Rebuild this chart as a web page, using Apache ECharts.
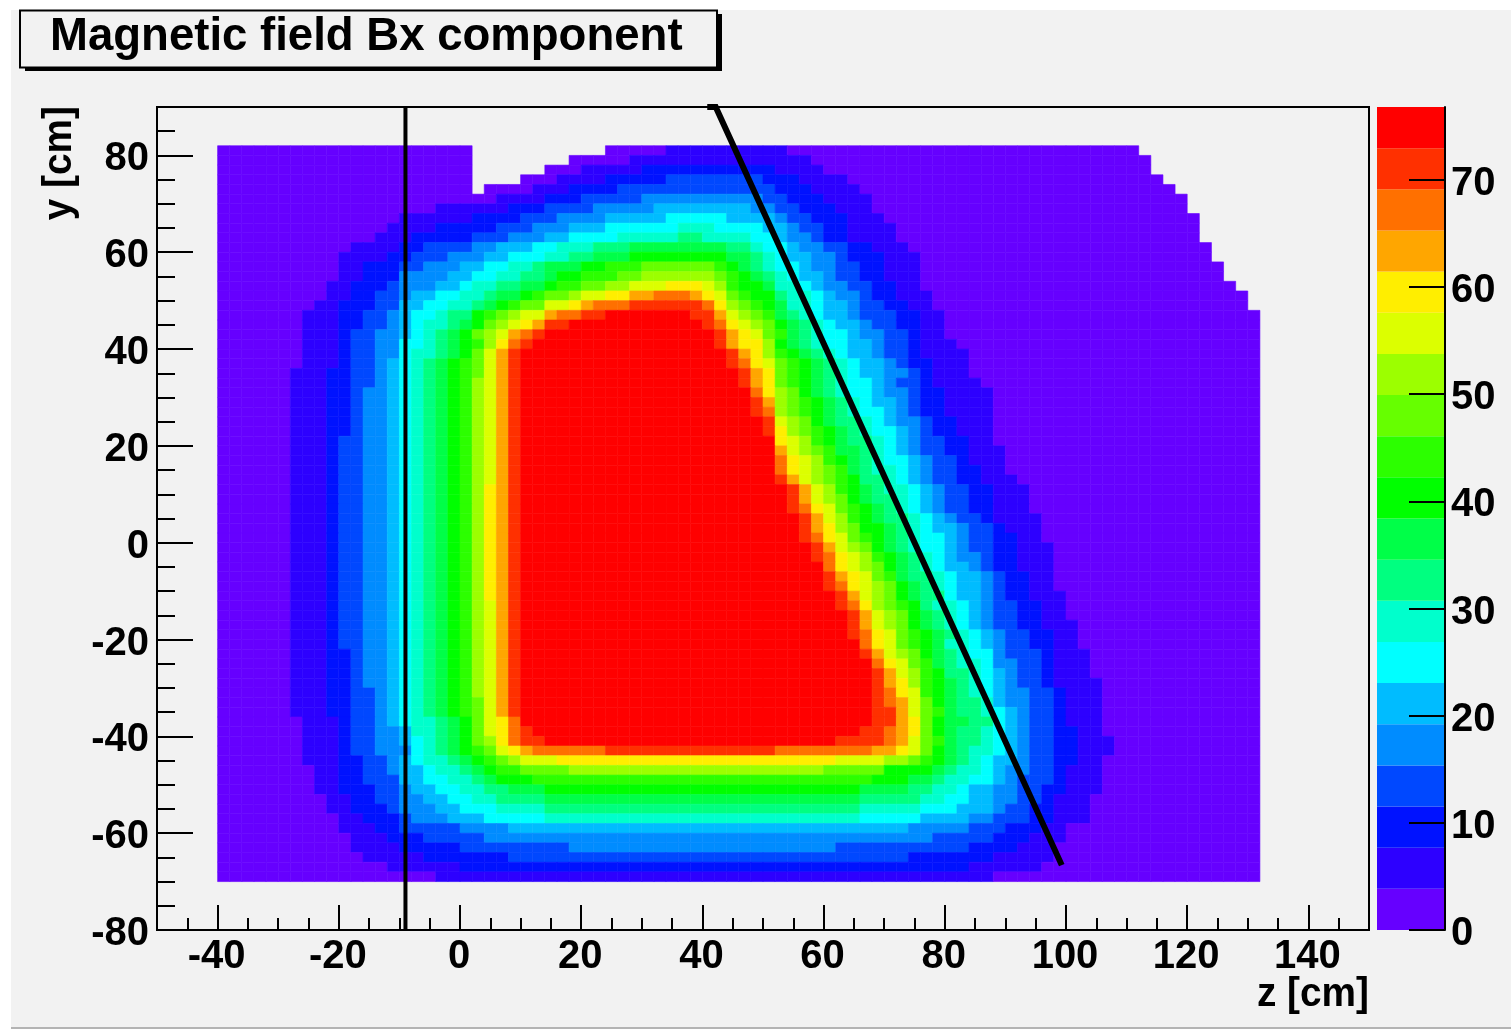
<!DOCTYPE html>
<html>
<head>
<meta charset="utf-8">
<title>Magnetic field Bx component</title>
<style>
  html, body { margin: 0; padding: 0; background: #fff; width: 1511px; height: 1029px; overflow: hidden; }
  #panel { position: absolute; left: 11px; top: 10px; width: 1500px; height: 1017px; background: #f2f2f2; border-bottom: 2px solid #b4b4b4; }
  #chart { position: absolute; left: 0; top: 0; width: 1511px; height: 1029px; }
</style>
</head>
<body>
<div id="panel"></div>
<div id="chart"></div>
<script src="https://cdn.jsdelivr.net/npm/echarts@6/dist/echarts.min.js"></script>
<script>
// Colour-band edges of the Bx scale, the band colours and the band centres.
const bandEdges = [0, 3.84, 7.68, 11.52, 15.36, 19.2, 23.04, 26.88, 30.72, 34.56, 38.4, 42.24, 46.08, 49.92, 53.76, 57.6, 61.44, 65.28, 69.12, 72.96, 76.8];
const bandColors = ['#6600ff', '#2d00ff', '#0012ff', '#0048ff', '#008cff', '#00bcff', '#00ffff', '#00ffcc', '#00ff80', '#00ff48', '#00ff00', '#2cff00', '#66ff00', '#9cff00', '#dcff00', '#ffee00', '#ffa600', '#ff7000', '#ff3000', '#ff0000'];
const bandValues = [1.92, 5.76, 9.6, 13.44, 17.28, 21.12, 24.96, 28.8, 32.64, 36.48, 40.32, 44.16, 48, 51.84, 55.68, 59.52, 63.36, 67.2, 71.04, 74.88];
const bandLetters = 'abcdefghijklmnopqrst';

// Histogram bins.
const zFirstBin = -40, zBinWidth = 2, zBinCount = 86;
const yTopBin = 80, yBinHeight = 2;

// One line per y bin, top to bottom: band letter + first z bin of that run ('.' = empty).
const fieldRows = [
'a0 .21 a32 b37 a47 .76',
'a0 .21 a29 b34 a49 .77',
'a0 .21 a27 b30 c35 b46 a50 .77',
'a0 .21 a25 b28 c32 d37 c45 b48 a52 .78',
'a0 .21 a22 b26 c29 d33 c46 b49 a53 .79',
'a0 b23 c27 d30 e35 d45 c47 b50 a54 .80',
'a0 b18 c24 d27 e31 f36 e44 d46 c48 b51 a54 .80',
'a0 b15 c21 d25 e28 f32 g37 f42 e46 d47 c49 b52 a55 .81',
'a0 b14 c18 d23 e26 f29 g32 h38 g41 f45 e47 d48 c50 b52 a56 .81',
'a0 b13 c16 d21 e24 f27 g29 h33 i38 h40 g44 f46 e47 d49 c50 b52 a56 .81',
'a0 b11 c15 d17 e21 f23 g26 h28 i31 j34 i42 h44 g45 f47 e48 d50 c52 b54 a57 .82',
'a0 b10 c14 d16 e19 f22 g24 h27 i29 j31 k34 j42 i44 h45 g46 f47 e49 d51 c52 b55 a58 .82',
'a0 b10 c12 d15 e17 f20 g22 h24 i26 j27 k30 l32 m35 l41 k42 j43 i44 h45 g46 f48 e49 d51 c53 b55 a58 .83',
'a0 b10 c12 e15 f19 g21 h23 i25 j27 k28 l30 m33 n35 m41 l42 k43 j44 i45 h46 g47 f48 e50 d51 c53 b55 a58 .83',
'a0 b9 c11 d14 e15 f18 g20 h21 i23 j25 k27 l28 m30 n32 o34 p37 o40 n41 l42 k43 j45 h46 g48 f49 e50 d52 c54 b56 a58 .84',
'a0 b9 c11 d13 e15 f16 g18 h20 i22 j23 k25 l26 m27 n29 o30 p32 q34 r36 q39 p40 o41 m42 l43 k44 i46 h47 g49 f50 e51 d53 c54 b56 a59 .85',
'a0 b8 c10 d13 f15 g17 h19 i21 j22 k23 l24 m25 o27 p29 q30 r31 s34 r40 p41 n42 m43 l44 k45 j46 h47 g49 f50 e52 d53 c55 b57 a59 .85',
'a0 b7 c10 d12 e14 f15 g16 h18 i19 k21 l22 m23 n24 o25 q27 r28 s30 t32 s39 q41 o42 n43 m44 l45 j46 i47 h48 g49 f50 e52 d53 c56 b58 a60',
'a0 b7 c10 d12 e14 f15 g16 h17 i19 j20 k21 m22 n23 o24 p25 q26 s27 t29 s40 r41 p42 o43 n44 m45 k46 j47 i48 h49 g50 f51 e53 d54 c56 b58 a60',
'a0 b7 c10 d11 e13 f15 g16 h17 i18 j19 k20 m21 n22 o23 q24 r25 s26 t27 s41 q42 p43 o44 m45 l46 j47 i48 h49 g50 f52 e53 d55 c57 b58 a60',
'a0 b7 c10 d11 e13 g15 h17 i18 j19 k20 l21 n22 p23 r24 s25 t26 s41 q42 p43 n45 k46 j47 i48 h49 g50 f52 e54 d55 c57 b58 a61',
'a0 b7 c10 d11 e13 g15 h16 i18 j19 k20 m21 o22 q23 s24 t25 s42 q43 p44 n45 l46 k47 j48 i49 h50 g51 f52 e54 d55 c57 b58 a62',
'a0 b7 c10 d11 e13 f14 g15 h16 i17 j18 k19 l20 m21 o22 q23 s24 t25 s42 r43 p44 o45 m46 l47 k48 j49 i50 h51 g52 f53 e55 d56 c57 b59 a62',
'a0 b6 c9 d11 e13 f14 g15 h16 i17 j18 k19 l20 m21 o22 q23 s24 t25 s43 q44 p45 m46 l47 k48 j49 i50 h51 g52 f53 e55 d57 c58 b59 a62',
'a0 b6 c9 d11 e13 f14 g15 h16 i17 j18 k19 l20 n21 o22 q23 s24 t25 s43 q44 p45 m46 l47 k48 j49 i50 h51 g52 f54 e55 d56 c58 b59 a63',
'a0 b6 c9 d11 e12 f14 g15 h16 i17 j18 k19 l20 n21 o22 q23 s24 t25 r44 p45 n46 m47 k48 j49 i50 h51 g52 f54 e55 d57 c58 b60 a64',
'a0 b6 c9 d11 e12 f14 g15 h16 i17 j18 k19 l20 n21 o22 q23 s24 t25 s44 q45 n46 m47 l48 k49 j50 i51 h52 g53 f54 e56 d57 c58 b60 a64',
'a0 b6 c9 d11 e12 f14 g15 h16 i17 j18 k19 l20 n21 o22 q23 s24 t25 s44 r45 n46 m47 l48 k49 j50 i51 h52 g53 f55 e56 d57 c58 b60 a64',
'a0 b6 c9 d11 e12 f14 g15 h16 i17 j18 k19 l20 n21 o22 q23 s24 t25 s45 o46 n47 m48 k49 j50 i51 h53 g54 f55 e56 d58 c59 b61 a64',
'a0 b6 c9 d11 e12 f14 g15 h16 i17 j18 k19 l20 n21 o22 q23 s24 t25 s45 p46 n47 m48 l49 k50 j51 i52 h53 g54 f56 e57 d58 c59 b61 a64',
'a0 b6 c9 d10 e12 f14 g15 h16 i17 j18 k19 l20 n21 o22 q23 s24 t25 p46 o47 n48 l49 k50 j51 i52 h54 g55 f56 e57 d58 c60 b62 a64',
'a0 b6 c9 d10 e12 f14 g15 h16 i17 j18 k19 l20 n21 o22 q23 s24 t25 q46 o47 n48 m49 l50 j51 i53 h54 g55 f56 e57 d58 c60 b62 a65',
'a0 b6 c9 d10 e12 f14 g15 h16 i17 j18 k19 l20 n21 o22 q23 s24 t25 r46 p47 o48 n49 l50 k51 j52 i53 h54 g55 f57 e58 d59 c61 b62 a65',
'a0 b6 c9 d10 e12 f14 g15 h16 i17 j18 k19 l20 n21 o22 q23 s24 t25 r46 p47 o48 n49 m50 l51 j52 i53 h54 g56 f57 e58 d59 c61 b63 a65',
'a0 b6 c9 d10 e12 f14 g15 h16 i17 j18 k19 l20 n21 o22 q23 s24 t25 s46 q47 o48 n49 m50 l51 k52 i53 h55 g56 f57 e58 d59 c61 b63 a66',
'a0 b6 c9 d10 e12 f14 g15 h16 i17 j18 k19 l20 n21 p22 q23 s24 t25 s47 q48 o49 n50 l51 k52 j53 i54 h55 g57 f58 e59 d60 c62 b64 a67',
'a0 b6 c9 d10 e12 f14 g15 h16 i17 j18 k19 l20 n21 p22 q23 s24 t25 s47 q48 o49 n50 m51 k52 j53 i54 h56 g57 f58 e59 d60 c62 b64 a67',
'a0 b6 c9 d10 e12 f14 g15 h16 i17 j18 k19 l20 n21 p22 q23 s24 t25 s47 r48 p49 o50 m51 l52 k53 j54 i55 h56 g57 f58 e59 d60 c62 b64 a67',
'a0 b6 c9 d10 e12 f14 g15 h16 i17 j18 k19 l20 n21 p22 q23 s24 t25 s48 q49 o50 n51 l52 k53 j54 i55 h57 g58 f59 e60 d61 c63 b64 a68',
'a0 b6 c9 d10 e12 f14 g15 h16 i17 j18 k19 l20 n21 p22 q23 s24 t25 s48 q49 p50 n51 m52 k53 j55 i56 h57 g58 f59 e61 d62 c64 b65 a68',
'a0 b6 c9 d10 e12 f14 g15 h16 i17 j18 k19 l20 n21 p22 q23 s24 t25 s48 r49 p50 o51 m52 l53 k54 j55 i56 h57 g58 f60 e61 d62 c64 b66 a68',
'a0 b6 c9 d10 e12 f14 g15 h16 i17 j18 k19 l20 n21 p22 q23 s24 t25 s49 q50 o51 n52 m53 k54 j55 i56 h57 g58 f60 e61 d62 c64 b66 a69',
'a0 b6 c9 d10 e12 f14 g15 h16 i17 j18 k19 l20 n21 p22 q23 s24 t25 s49 r50 p51 o52 n53 l54 k55 j56 i57 h58 g59 f60 e61 d63 c64 b66 a69',
'a0 b6 c9 d10 e12 f14 g15 h16 i17 j18 k19 l20 n21 p22 q23 s24 t25 r50 p51 o52 n53 m54 k55 j56 i57 h58 g59 f60 e62 d63 c64 b66 a69',
'a0 b6 c9 d10 e12 f14 g15 h16 i17 j18 k19 l20 n21 p22 q23 s24 t25 s50 q51 p52 o53 m54 l55 j56 i57 h59 g60 f61 e63 d64 c65 b67 a69',
'a0 b6 c9 d10 e12 f14 g15 h16 i17 j18 k19 l20 n21 p22 q23 s24 t25 s50 r51 p52 o53 n54 m55 k56 j57 i58 h59 g60 f61 e63 d64 c65 b67 a69',
'a0 b6 c9 d10 e12 f14 g15 h16 i17 j18 k19 l20 n21 p22 q23 s24 t25 s51 q52 o53 n54 m55 k56 j57 i58 g60 f61 e63 d64 c65 b67 a70',
'a0 b6 c9 d10 e12 f14 g15 h16 i17 j18 k19 l20 n21 o22 q23 s24 t25 s51 r52 p53 n54 m55 l56 k57 i58 h59 g61 f62 e63 d64 c66 b68 a70',
'a0 b6 c9 d10 e12 f14 g15 h16 i17 j18 k19 l20 n21 o22 q23 s24 t25 s52 q53 o54 n55 m56 k57 j58 i59 h60 g61 f62 e63 d64 c66 b68 a70',
'a0 b6 c9 d10 e12 f14 g15 h16 i17 j18 k19 l20 n21 o22 q23 s24 t25 s52 q53 o54 n55 m56 k57 j58 i59 h60 g61 f62 e63 d64 c66 b68 a71',
'a0 b6 c9 d10 e12 f14 g15 h16 i17 j18 k19 l20 n21 o22 q23 s24 t25 s52 r53 p54 o55 m56 l57 k58 j59 i60 h61 g62 f63 e64 d65 c67 b69 a71',
'a0 b6 c9 d10 e12 f14 g15 h16 i17 j18 k19 l20 n21 o22 q23 s24 t25 r53 p54 o55 m56 l57 k58 j59 h60 g62 f63 e64 d65 c67 b69 a71',
'a0 b6 c9 d11 e12 f14 g15 h16 i17 j18 k19 l20 n21 o22 q23 s24 t25 s53 q54 o55 n56 m57 k58 j59 i60 h61 g62 e64 d65 c68 b69 a72',
'a0 b6 c9 d11 e12 f14 g15 h16 i17 j18 k19 l20 n21 o22 q23 s24 t25 r54 p55 o56 m57 l58 j59 i60 h61 g63 e64 d66 c68 b69 a72',
'a0 b6 c9 d11 e12 f14 g15 h16 i17 j18 k19 l20 n21 o22 q23 s24 t25 s54 q55 o56 n57 l58 k59 i60 h62 g63 f64 e65 d66 c68 b69 a72',
'a0 b6 c9 d11 e12 f14 g15 h16 i17 j18 k19 l20 n21 o22 q23 s24 t25 s54 q55 p56 n57 l58 k59 j60 i61 h62 g63 f64 e65 d66 c68 b69 a73',
'a0 b6 c9 d11 e13 f14 g15 h16 i17 j18 k19 l20 n21 o22 q23 s24 t25 s54 r55 p56 o57 l58 k59 j60 i61 h62 g63 f64 e65 d67 c69 b70 a73',
'a0 b6 c9 d11 e13 f14 g15 h16 i17 j18 k19 l20 m21 o22 q23 s24 t25 s54 r55 q56 o57 m58 k59 j60 i61 h63 f64 e65 d67 c69 b70 a73',
'a0 b6 c9 d11 e13 f14 g15 h16 i17 j18 k19 l20 m21 o22 q23 s24 t25 s54 q56 o57 m58 l59 j60 i61 h63 g64 f65 e66 d67 c69 b70 a73',
'a0 b7 c10 d11 e13 f14 g15 h16 i18 j19 k20 m21 o22 p23 r24 t25 s54 q56 p57 m58 k59 j60 i62 g64 f65 e66 d67 c69 b70 a73',
'a0 b7 c10 d11 e13 f15 h16 i18 j19 k20 m21 o22 p23 r24 s25 t26 s53 r55 q56 p57 m58 k59 j60 i61 h63 g64 f65 e66 d67 c69 b71 a73',
'a0 b7 c10 d11 e13 f15 g16 h17 i18 j19 k20 m21 n22 p23 r24 s25 t27 s51 r55 q56 o57 m58 l59 j60 i61 h63 g64 f65 e66 d67 c69 b71 a74',
'a0 b7 c10 d11 e13 g16 h17 i18 j19 k20 l21 m22 o23 p24 q25 r26 s32 r46 q54 p56 o57 m58 k59 j60 i61 h62 g64 f65 e66 d67 c69 b71 a74',
'a0 b7 c10 d12 e14 f15 g16 h17 i19 j20 k21 l22 m23 n24 o25 p28 o51 n55 m57 l58 k59 j60 i61 h62 g63 f64 e66 d67 c69 b71 a73',
'a0 b8 c10 d12 e14 f15 g17 h18 i20 j21 k22 l23 m25 n29 m50 k55 j59 i60 h61 g63 f64 e65 d67 c69 b70 a73',
'a0 b8 c10 d12 f15 g17 h19 i21 j22 k23 l26 k54 j57 i59 h60 g62 f64 e65 d66 c69 b70 a73',
'a0 b8 c10 d13 e15 f16 g18 h20 i22 j24 k27 j53 i57 h59 g61 f62 e64 d66 c68 b70 a73',
'a0 b9 c11 d13 e15 f17 g19 h21 i23 j27 i53 h58 g60 f62 e64 d66 c68 b69 a72',
'a0 b9 c11 d14 e15 f18 g20 h23 i27 h53 g58 f61 e64 d65 c67 b69 a72',
'a0 b10 c12 d15 e16 f19 g22 h27 g53 f58 e62 d64 c67 b69 a72',
'a0 b10 c13 d15 e20 f24 e57 d62 c65 b68 a70',
'a0 b11 c14 d17 e22 d59 c64 b67 a70',
'a0 b11 c15 d20 e29 d51 c62 b66 a69',
'a0 b12 c17 d24 c57 b64 a69',
'a0 b14 c20 b62 a68',
'a0 b18 a64'
];

// Axis ticks and labels.
const zMajorTicks = [-40, -20, 0, 20, 40, 60, 80, 100, 120, 140];
const zMinorTicks = [-45, -35, -30, -25, -15, -10, -5, 5, 10, 15, 25, 30, 35, 45, 50, 55, 65, 70, 75, 85, 90, 95, 105, 110, 115, 125, 130, 135, 145];
const yMajorTicks = [-80, -60, -40, -20, 0, 20, 40, 60, 80];
const yMinorTicks = [-75, -70, -65, -55, -50, -45, -35, -30, -25, -15, -10, -5, 5, 10, 15, 25, 30, 35, 45, 50, 55, 65, 70, 75, 85];
const scaleTicks = [0, 10, 20, 30, 40, 50, 60, 70];

// The two overlaid black lines, in plot units (z, y).
const verticalLine = [[-9, 90], [-9, -80]];
const slantedLine = [[40.8, 90], [42.2, 90], [99.3, -66.6]];

const cellData = [];
fieldRows.forEach(function (row, r) {
  const runs = row.split(' ').map(function (t) { return { band: t[0], start: +t.slice(1) }; });
  runs.forEach(function (run, i) {
    if (run.band === '.') return;
    const end = i + 1 < runs.length ? runs[i + 1].start : zBinCount;
    const value = bandValues[bandLetters.indexOf(run.band)];
    for (let c = run.start; c < end; c++) {
      cellData.push([zFirstBin + c * zBinWidth, yTopBin - r * yBinHeight, value]);
    }
  });
});
const scaleData = bandValues.map(function (v, i) { return [bandEdges[i], bandEdges[i + 1], v]; });

function renderCell(params, api) {
  const a = api.coord([api.value(0), api.value(1) + yBinHeight]);
  const b = api.coord([api.value(0) + zBinWidth, api.value(1)]);
  const color = api.visual('color');
  return { type: 'rect', shape: { x: a[0], y: a[1], width: b[0] - a[0], height: b[1] - a[1] }, style: { fill: color, stroke: color, lineWidth: 0.6 } };
}
function renderScale(params, api) {
  const a = api.coord([0, api.value(1)]);
  const b = api.coord([1, api.value(0)]);
  return { type: 'rect', shape: { x: a[0], y: a[1], width: b[0] - a[0], height: b[1] - a[1] }, style: { fill: api.visual('color') } };
}

const FONT = '"Liberation Sans", Arial, Helvetica, sans-serif';
const labelStyle = { fontFamily: FONT, fontWeight: 'bold', fontSize: 40, color: '#000' };
const blackLine = { color: '#000', width: 2 };

const chart = echarts.init(document.getElementById('chart'), null, { renderer: 'canvas' });
chart.setOption({
  animation: false,
  backgroundColor: 'transparent',
  grid: [
    { left: 157, top: 107, width: 1212, height: 823, show: true, borderColor: '#000', borderWidth: 2, backgroundColor: 'transparent', containLabel: false },
    { left: 1377, top: 107, width: 68, height: 823, show: false, containLabel: false }
  ],
  xAxis: [
    { type: 'value', gridIndex: 0, min: -50, max: 150, position: 'bottom',
      axisLine: { show: true, onZero: false, lineStyle: blackLine },
      axisTick: { show: true, inside: true, length: 25, lineStyle: blackLine, customValues: zMajorTicks },
      axisLabel: Object.assign({ show: true, margin: 7, customValues: zMajorTicks, padding: [0, 2, 0, 0] }, labelStyle),
      splitLine: { show: false } },
    { type: 'value', gridIndex: 0, min: -50, max: 150, position: 'bottom',
      axisLine: { show: false, onZero: false },
      axisTick: { show: true, inside: true, length: 12, lineStyle: blackLine, customValues: zMinorTicks },
      axisLabel: { show: false }, splitLine: { show: false } },
    { type: 'value', gridIndex: 1, min: 0, max: 1, show: false }
  ],
  yAxis: [
    { type: 'value', gridIndex: 0, min: -80, max: 90, position: 'left',
      axisLine: { show: true, onZero: false, lineStyle: blackLine },
      axisTick: { show: true, inside: true, length: 36, lineStyle: blackLine, customValues: yMajorTicks },
      axisLabel: Object.assign({ show: true, margin: 8, customValues: yMajorTicks, verticalAlign: 'top', lineHeight: 8 }, labelStyle),
      splitLine: { show: false } },
    { type: 'value', gridIndex: 0, min: -80, max: 90, position: 'left',
      axisLine: { show: false, onZero: false },
      axisTick: { show: true, inside: true, length: 18, lineStyle: blackLine, customValues: yMinorTicks },
      axisLabel: { show: false }, splitLine: { show: false } },
    { type: 'value', gridIndex: 1, min: 0, max: 76.8, position: 'right', z: 5,
      axisLine: { show: true, onZero: false, lineStyle: blackLine },
      axisTick: { show: true, inside: true, length: 36, lineStyle: blackLine, customValues: scaleTicks },
      axisLabel: Object.assign({ show: true, margin: 6, customValues: scaleTicks, verticalAlign: 'top', lineHeight: 8 }, labelStyle),
      splitLine: { show: false } }
  ],
  visualMap: {
    type: 'piecewise', show: false, dimension: 2, seriesIndex: [0, 1],
    pieces: bandColors.map(function (c, i) { return { gte: bandEdges[i], lt: bandEdges[i + 1], color: c }; })
  },
  series: [
    { name: 'Bx', type: 'custom', xAxisIndex: 0, yAxisIndex: 0, coordinateSystem: 'cartesian2d', data: cellData,
      renderItem: renderCell, encode: { x: 0, y: 1 }, progressive: 0, silent: true, clip: false, z: 2 },
    { name: 'scale', type: 'custom', xAxisIndex: 2, yAxisIndex: 2, coordinateSystem: 'cartesian2d', data: scaleData,
      renderItem: renderScale, encode: { y: [0, 1] }, progressive: 0, silent: true, z: 2 },
    { name: 'vertical', type: 'line', xAxisIndex: 0, yAxisIndex: 0, data: verticalLine, showSymbol: false, symbol: 'none',
      lineStyle: { color: '#000', width: 4 }, silent: true, z: 4 },
    { name: 'slanted', type: 'line', xAxisIndex: 0, yAxisIndex: 0, data: slantedLine, showSymbol: false, symbol: 'none',
      lineStyle: { color: '#000', width: 6, join: 'miter' }, silent: true, z: 4 }
  ],
  graphic: { elements: [
    { type: 'rect', z: 10, shape: { x: 25, y: 14, width: 697, height: 57 }, style: { fill: '#000' }, silent: true },
    { type: 'rect', z: 11, shape: { x: 20, y: 10.5, width: 697, height: 57 }, style: { fill: '#f2f2f2', stroke: '#000', lineWidth: 2 }, silent: true },
    { type: 'text', z: 12, x: 50, y: 37, scaleX: 0.99, style: { text: 'Magnetic field Bx component', fontFamily: FONT, fontWeight: 'bold', fontSize: 46, fill: '#000', align: 'left', verticalAlign: 'middle' }, silent: true },
    { type: 'text', z: 12, x: 1369, y: 995, scaleX: 0.97, style: { text: 'z [cm]', fontFamily: FONT, fontWeight: 'bold', fontSize: 40, fill: '#000', align: 'right', verticalAlign: 'middle' }, silent: true },
    { type: 'text', z: 12, x: 60, y: 106, rotation: Math.PI / 2, scaleX: 0.97, style: { text: 'y [cm]', fontFamily: FONT, fontWeight: 'bold', fontSize: 40, fill: '#000', align: 'right', verticalAlign: 'middle' }, silent: true }
  ] }
});
</script>
</body>
</html>
